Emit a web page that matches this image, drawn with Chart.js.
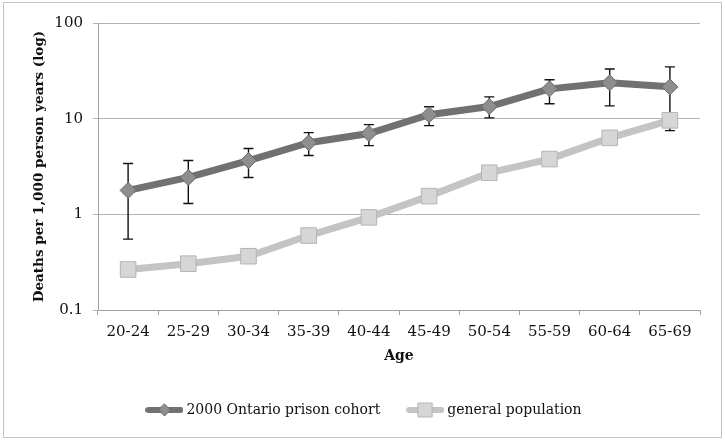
<!DOCTYPE html>
<html>
<head>
<meta charset="utf-8">
<script src="https://cdn.jsdelivr.net/npm/chart.js@4/dist/chart.umd.min.js"></script>
<style>
  html, body { margin: 0; padding: 0; background: #fff; }
  #wrap { position: relative; width: 725px; height: 440px; }
  #frame { position: absolute; left: 3px; top: 2px; width: 717px; height: 434px; border: 1px solid #c4c4c4; pointer-events: none; }
  canvas { position: absolute; left: 0; top: 0; }
</style>
</head>
<body>
<div id="wrap">
  <canvas id="c" width="725" height="440"></canvas>
  <div id="frame"></div>
</div>
<script>
const categories = ['20-24','25-29','30-34','35-39','40-44','45-49','50-54','55-59','60-64','65-69'];
const prisonRates = [1.78, 2.43, 3.65, 5.6, 7.0, 11.0, 13.4, 20.5, 23.7, 21.5];
const prisonLower = [0.55, 1.3, 2.43, 4.12, 5.23, 8.45, 10.2, 14.3, 13.6, 7.5];
const prisonUpper = [3.4, 3.65, 4.87, 7.15, 8.66, 13.3, 16.9, 25.5, 33.1, 34.8];
const generalRates = [0.265, 0.305, 0.365, 0.60, 0.93, 1.55, 2.72, 3.78, 6.3, 9.6];
const yTicks = [0.1, 1, 10, 100];
const seriesNames = ['2000 Ontario prison cohort', 'general population'];

const FONT = '"DejaVu Serif", "Liberation Serif", serif';

function legendIcon(lineColor, fill, border, shape) {
  const cv = document.createElement('canvas');
  cv.width = 38; cv.height = 16;
  const g = cv.getContext('2d');
  g.strokeStyle = lineColor; g.lineWidth = 6; g.lineCap = 'round';
  g.beginPath(); g.moveTo(3, 8); g.lineTo(35, 8); g.stroke();
  g.fillStyle = fill; g.strokeStyle = border; g.lineWidth = 1;
  g.beginPath();
  if (shape === 'diamond') {
    g.moveTo(19, 2); g.lineTo(25, 8); g.lineTo(19, 14); g.lineTo(13, 8); g.closePath();
  } else {
    g.rect(12, 1, 14, 14);
  }
  g.fill(); g.stroke();
  return cv;
}

const errorBars = {
  id: 'errorBars',
  beforeDatasetsDraw(chart) {
    const ctx = chart.ctx;
    const xs = chart.scales.x, ys = chart.scales.y;
    ctx.save();
    ctx.strokeStyle = '#111';
    ctx.lineWidth = 1.4;
    for (let i = 0; i < categories.length; i++) {
      const x = xs.getPixelForValue(i);
      const yl = ys.getPixelForValue(prisonLower[i]);
      const yh = ys.getPixelForValue(prisonUpper[i]);
      ctx.beginPath();
      ctx.moveTo(x, yl); ctx.lineTo(x, yh);
      ctx.moveTo(x - 5, yl); ctx.lineTo(x + 5, yl);
      ctx.moveTo(x - 5, yh); ctx.lineTo(x + 5, yh);
      ctx.stroke();
    }
    ctx.restore();
  }
};

new Chart(document.getElementById('c'), {
  type: 'line',
  data: {
    labels: categories,
    datasets: [
      {
        label: seriesNames[0],
        data: prisonRates,
        borderColor: '#717171',
        borderWidth: 7,
        pointStyle: 'rectRot',
        pointRadius: 8,
        pointBackgroundColor: '#8e8e8e',
        pointBorderColor: '#6a6a6a',
        pointBorderWidth: 1,
        tension: 0
      },
      {
        label: seriesNames[1],
        data: generalRates,
        borderColor: '#c4c4c4',
        borderWidth: 7,
        pointStyle: 'rect',
        pointRadius: 11,
        pointBackgroundColor: '#d6d6d6',
        pointBorderColor: '#b4b4b4',
        pointBorderWidth: 1,
        tension: 0
      }
    ]
  },
  options: {
    responsive: false,
    animation: false,
    devicePixelRatio: 1,
    layout: { padding: { left: 31, right: 25, top: 23, bottom: 13 } },
    plugins: {
      tooltip: { enabled: false },
      legend: {
        position: 'bottom',
        labels: {
          font: { family: FONT, size: 14 },
          color: '#111',
          usePointStyle: true,
          pointStyleWidth: 30,
          padding: 30,
          generateLabels(chart) {
            return [
              { text: seriesNames[0], pointStyle: legendIcon('#717171', '#8e8e8e', '#6a6a6a', 'diamond'), datasetIndex: 0, fillStyle: '#fff', strokeStyle: '#fff', lineWidth: 0, fontColor: '#111' },
              { text: seriesNames[1], pointStyle: legendIcon('#c4c4c4', '#d6d6d6', '#b4b4b4', 'square'), datasetIndex: 1, fillStyle: '#fff', strokeStyle: '#fff', lineWidth: 0, fontColor: '#111' }
            ];
          }
        }
      }
    },
    scales: {
      x: {
        type: 'category',
        offset: true,
        afterFit(s) { s.height = 63; },
        grid: { offset: true, drawOnChartArea: false, drawTicks: true, tickLength: 5, color: '#a0a0a0' },
        border: { color: '#a0a0a0' },
        ticks: { font: { family: FONT, size: 15 }, color: '#111', padding: 8, maxRotation: 0 },
        title: { display: true, text: 'Age', font: { family: FONT, size: 14, weight: 'bold' }, color: '#111', padding: { top: 4, bottom: 8 } }
      },
      y: {
        type: 'logarithmic',
        min: 0.1,
        max: 100,
        afterBuildTicks(s) { s.ticks = yTicks.map(v => ({ value: v })); },
        afterFit(s) { s.width = 67; },
        grid: { color: '#b4b4b4', tickLength: 5 },
        border: { color: '#a0a0a0' },
        ticks: { font: { family: FONT, size: 15 }, color: '#111', padding: 10, callback: v => String(v) },
        title: { display: true, text: 'Deaths per 1,000 person years (log)', font: { family: FONT, size: 13.5, weight: 'bold' }, color: '#111', padding: { top: 0, bottom: 0 } }
      }
    }
  },
  plugins: [errorBars]
});
</script>
</body>
</html>
